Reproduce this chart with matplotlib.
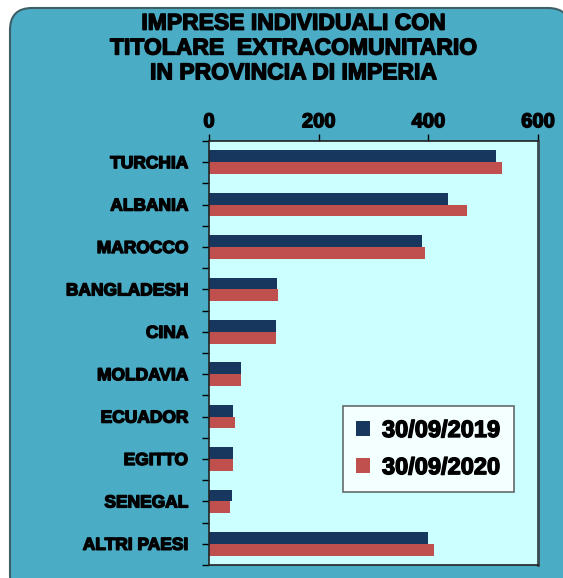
import matplotlib.pyplot as plt
import numpy as np
from matplotlib.patches import FancyBboxPatch
import matplotlib.patheffects as pe

# data
countries = ['TURCHIA', 'ALBANIA', 'MAROCCO', 'BANGLADESH', 'CINA',
             'MOLDAVIA', 'ECUADOR', 'EGITTO', 'SENEGAL', 'ALTRI PAESI']
values_2019 = [524, 435, 389, 124, 122, 58, 44, 44, 42, 399]
values_2020 = [534, 471, 394, 126, 122, 58, 47, 44, 39, 411]
series_labels = ['30/09/2019', '30/09/2020']
xticks = [0, 200, 400, 600]

teal = '#4BACC6'
navy = '#17375E'
red = '#C0504D'

plt.rcParams['font.family'] = ['Liberation Sans', 'DejaVu Sans']
heavy = [pe.withStroke(linewidth=1.0, foreground='black')]

W, H = 563, 578
fig = plt.figure(figsize=(W / 100, H / 100), dpi=100)
fig.patch.set_facecolor('white')

# background axes with the rounded teal frame
bg = fig.add_axes([0, 0, 1, 1], zorder=-1)
bg.set_xlim(0, W)
bg.set_ylim(H, 0)
bg.axis('off')
bg.add_patch(FancyBboxPatch((10, 8), 560, 590,
                            boxstyle='round,pad=0,rounding_size=22',
                            facecolor=teal, edgecolor='#3F5F66', linewidth=1.5))

ax = fig.add_axes([209 / W, 1 - 565 / H, 329 / W, 424 / H])
ax.set_facecolor('#CCFFFF')

y = np.arange(len(countries))
h = 0.28
ax.barh(y - h / 2, values_2019, height=h, color=navy, label=series_labels[0])
ax.barh(y + h / 2, values_2020, height=h, color=red, label=series_labels[1])

ax.set_xlim(0, 600)
ax.set_ylim(len(countries) - 0.5, -0.5)
ax.xaxis.tick_top()
ax.set_xticks(xticks)
ax.set_xticklabels([str(t) for t in xticks], fontsize=14.5, fontweight='bold')
ax.tick_params(axis='x', length=5, width=1, pad=2, colors='black')

ax.set_yticks(y)
ax.set_yticklabels(countries, fontsize=12.5, fontweight='bold')
ax.set_yticks(np.arange(len(countries) + 1) - 0.5, minor=True)
ax.tick_params(axis='y', which='both', length=5, width=1, pad=10)
for lbl in ax.get_xticklabels() + ax.get_yticklabels():
    lbl.set_path_effects(heavy)

for s in ['top', 'bottom', 'left']:
    ax.spines[s].set_color('#222222')
    ax.spines[s].set_linewidth(1.2)
ax.spines['right'].set_color('#3A4A50')
ax.spines['right'].set_linewidth(2)

fig.text(293 / W, 1 - 48 / H,
         'IMPRESE INDIVIDUALI CON\nTITOLARE  EXTRACOMUNITARIO\nIN PROVINCIA DI IMPERIA',
         ha='center', va='center', fontsize=16.5, fontweight='bold',
         linespacing=1.1, path_effects=heavy)

leg = ax.legend(loc='upper left', bbox_to_anchor=((343 - 209) / 329, (565 - 406) / 424),
                prop={'weight': 'bold', 'size': 17},
                frameon=True, fancybox=False, edgecolor='#444444',
                handlelength=0.6, handleheight=0.6, handletextpad=0.5,
                labelspacing=0.6, borderpad=0.55, borderaxespad=0)
leg.get_frame().set_linewidth(1.2)
leg.get_frame().set_facecolor('white')
for t in leg.get_texts():
    t.set_path_effects(heavy)

fig.savefig('out.png', dpi=100, facecolor=fig.get_facecolor())
